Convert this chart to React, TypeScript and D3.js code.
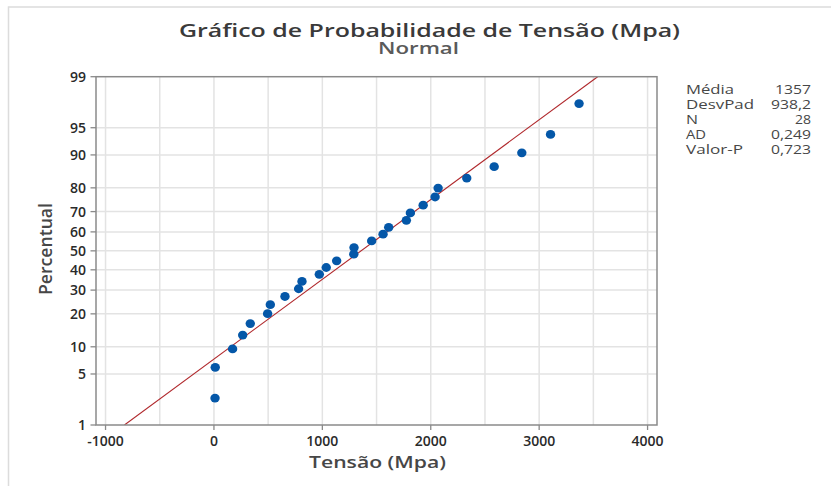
import * as d3 from 'd3';

// valores ordenados de Tensão (Mpa)
const tensao = [10, 12, 172, 265, 335, 495, 520, 655, 781, 812, 972, 1036, 1132, 1290, 1292,
  1455, 1560, 1612, 1775, 1812, 1930, 2040, 2068, 2332, 2585, 2840, 3105, 3368];
// posições de plotagem (percentual)
const percentual = [2.46, 5.99, 9.51, 13.03, 16.55, 20.07, 23.59, 27.11, 30.63, 34.15, 37.68, 41.2,
  44.72, 48.24, 51.76, 55.28, 58.8, 62.32, 65.85, 69.37, 72.89, 76.41, 79.93, 83.45, 86.97, 90.49,
  94.01, 97.54];

const yTicks = [1, 5, 10, 20, 30, 40, 50, 60, 70, 80, 90, 95, 99];
const xTicks = [-1000, 0, 1000, 2000, 3000, 4000];
const xGrid = [-1000, -500, 0, 500, 1000, 1500, 2000, 2500, 3000, 3500, 4000];

const media = 1357;
const desvPad = 938.2;
const statLabels = ['Média', 'DesvPad', 'N', 'AD', 'Valor-P'];
const statValues = ['1357', '938,2', '28', '0,249', '0,723'];
const statLabelWidth = [48, 68, 12, 20, 57];
const statValueWidth = [36, 40, 16, 40, 40];

// inversa da normal padrão (Acklam)
function normInv(p: number): number {
  const a = [-39.69683028665376, 220.9460984245205, -275.9285104469687, 138.357751867269, -30.66479806614716, 2.506628277459239];
  const b = [-54.47609879822406, 161.5858368580409, -155.6989798598866, 66.80131188771972, -13.28068155288572];
  const c = [-0.007784894002430293, -0.3223964580411365, -2.400758277161838, -2.549732539343734, 4.374664141464968, 2.938163982698783];
  const d = [0.007784695709041462, 0.3224671290700398, 2.445134137142996, 3.754408661907416];
  const pl = 0.02425;
  if (p < pl) {
    const q = Math.sqrt(-2 * Math.log(p));
    return (((((c[0] * q + c[1]) * q + c[2]) * q + c[3]) * q + c[4]) * q + c[5]) / ((((d[0] * q + d[1]) * q + d[2]) * q + d[3]) * q + 1);
  }
  if (p > 1 - pl) {
    const q = Math.sqrt(-2 * Math.log(1 - p));
    return -(((((c[0] * q + c[1]) * q + c[2]) * q + c[3]) * q + c[4]) * q + c[5]) / ((((d[0] * q + d[1]) * q + d[2]) * q + d[3]) * q + 1);
  }
  const q = p - 0.5;
  const r = q * q;
  return (((((a[0] * r + a[1]) * r + a[2]) * r + a[3]) * r + a[4]) * r + a[5]) * q / (((((b[0] * r + b[1]) * r + b[2]) * r + b[3]) * r + b[4]) * r + 1);
}

const W = 831;
const H = 486;
const left = 96, right = 657, top = 76.7, bottom = 425;
const font = '"Open Sans", "Noto Sans", sans-serif';

export default function App() {
  const x = d3.scaleLinear().domain([-1088, 4087]).range([left, right]);
  const zy = d3.scaleLinear().domain([normInv(0.01), normInv(0.99)]).range([bottom, top]);
  const y = (pct: number) => zy(normInv(pct / 100));

  const fit = d3.line<number>()
    .x(p => x(media + desvPad * normInv(p / 100)))
    .y(p => y(p));
  const fitPts = [1, 99];

  return (
    <svg width={W} height={H} style={{ position: 'absolute', left: 0, top: 0, background: '#fff' }}
      fontFamily={font}>
      <defs>
        <clipPath id="plot"><rect x={left} y={top} width={right - left} height={bottom - top} /></clipPath>
      </defs>
      <rect x={8.5} y={7} width={W + 20} height={H + 20} fill="none" stroke="#dcdcdc" strokeWidth={1.5} />

      <text x={179} y={36.5} fontSize={18.5} fontWeight={600} fill="#3a3a3a"
        textLength={501} lengthAdjust="spacingAndGlyphs">
        Gráfico de Probabilidade de Tensão (Mpa)
      </text>
      <text x={378} y={54} fontSize={15.5} fontWeight={600} fill="#5a5a5a" textLength={81} lengthAdjust="spacingAndGlyphs">Normal</text>

      {/* grade */}
      {xGrid.map(v => (
        <line key={'gx' + v} x1={x(v)} x2={x(v)} y1={top} y2={bottom} stroke="#e3e3e3" strokeWidth={1.5} />
      ))}
      {yTicks.slice(1, -1).map(p => (
        <line key={'gy' + p} x1={left} x2={right} y1={y(p)} y2={y(p)} stroke="#e3e3e3" strokeWidth={1.5} />
      ))}

      <path d={fit(fitPts) ?? ''} fill="none" stroke="#b0282c" strokeWidth={1.1} clipPath="url(#plot)" />

      {tensao.map((v, i) => (
        <ellipse key={i} cx={x(v)} cy={y(percentual[i])} rx={4.7} ry={4.4} fill="#0457a8" />
      ))}

      <rect x={left} y={top} width={right - left} height={bottom - top} fill="none" stroke="#8a8a8a" strokeWidth={1.5} />

      {/* eixo y */}
      {yTicks.map(p => (
        <g key={'ty' + p}>
          <line x1={left - 5.5} x2={left} y1={y(p)} y2={y(p)} stroke="#8a8a8a" strokeWidth={1.3} />
          <text x={86} y={y(p) + 5} textAnchor="end" fontSize={14} fontWeight={600} fill="#2a2a2a">{p}</text>
        </g>
      ))}
      {/* eixo x */}
      {xTicks.map(v => (
        <g key={'tx' + v}>
          <line x1={x(v)} x2={x(v)} y1={bottom} y2={bottom + 5} stroke="#8a8a8a" strokeWidth={1.3} />
          <text x={x(v)} y={446} textAnchor="middle" fontSize={14} fontWeight={600} fill="#2a2a2a">{v}</text>
        </g>
      ))}

      <text x={309} y={468} fontSize={17} fontWeight={600} fill="#474747"
        textLength={137} lengthAdjust="spacingAndGlyphs">Tensão (Mpa)</text>
      <text transform="translate(52,295) rotate(-90)" fontSize={18} fontWeight={600} fill="#474747"
        textLength={92} lengthAdjust="spacingAndGlyphs">Percentual</text>

      {statLabels.map((s, i) => (
        <g key={s}>
          <text x={686} y={94.3 + i * 15} fontSize={12.5} fill="#474747"
            textLength={statLabelWidth[i]} lengthAdjust="spacingAndGlyphs">{s}</text>
          <text x={811 - statValueWidth[i]} y={94.3 + i * 15} fontSize={12.5} fill="#474747"
            textLength={statValueWidth[i]} lengthAdjust="spacingAndGlyphs">{statValues[i]}</text>
        </g>
      ))}
    </svg>
  );
}
